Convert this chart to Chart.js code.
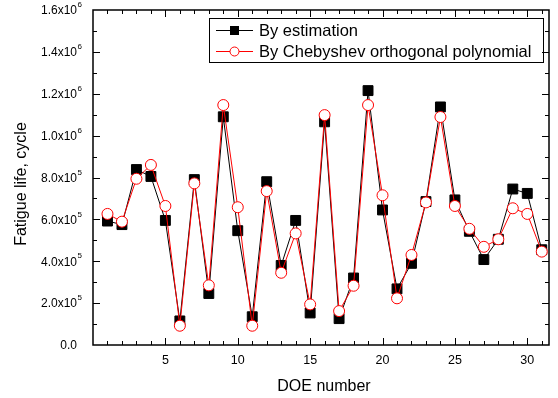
<!DOCTYPE html>
<html>
<head>
<meta charset="utf-8">
<script src="https://cdn.jsdelivr.net/npm/chart.js@4.4.1/dist/chart.umd.min.js"></script>
<style>
  html, body { margin: 0; padding: 0; background: #fff; }
  canvas { display: block; }
</style>
</head>
<body>
<canvas id="chart" width="558" height="398"></canvas>
<script>
const FONT = '"Liberation Sans", Arial, sans-serif';

const doeNumbers = [1, 2, 3, 4, 5, 6, 7, 8, 9, 10, 11, 12, 13, 14, 15, 16,
  17, 18, 19, 20, 21, 22, 23, 24, 25, 26, 27, 28, 29, 30, 31];

const byEstimation = [592000, 575000, 838000, 805000, 595000, 115000, 790000, 246000,
  1090000, 546000, 135000, 780000, 380000, 595000, 153000, 1066000, 126000, 320000,
  1215000, 645000, 268000, 390000, 685000, 1137000, 693000, 543000, 408000, 505000,
  745000, 724000, 455000];

const byChebyshev = [626000, 589000, 794000, 860000, 664000, 92000, 772000, 285000,
  1146000, 658000, 92000, 735000, 345000, 533000, 194000, 1098000, 162000, 283000,
  1146000, 715000, 223000, 430000, 681000, 1089000, 664000, 555000, 469000, 505000,
  653000, 626000, 446000];

const xTickValues = [5, 10, 15, 20, 25, 30];
const yTickValues = [0, 200000, 400000, 600000, 800000, 1000000, 1200000, 1400000, 1600000];
const yTickMantissa = ["0.0", "2.0", "4.0", "6.0", "8.0", "1.0", "1.2", "1.4", "1.6"];
const yTickExponent = ["", "5", "5", "5", "5", "6", "6", "6", "6"];

const toPoints = vals => doeNumbers.map((x, i) => ({ x, y: vals[i] }));

// frame, inward ticks, y labels, titles and the boxed legend
const decor = {
  id: "decor",
  afterDraw(chart) {
    const ctx = chart.ctx;
    const a = chart.chartArea;
    const xs = chart.scales.x;
    const ys = chart.scales.y;
    ctx.save();
    ctx.strokeStyle = "#000";
    ctx.lineWidth = 1.5;
    ctx.strokeRect(a.left, a.top, a.right - a.left, a.bottom - a.top);

    ctx.lineWidth = 1;
    ctx.beginPath();
    for (let v = 1; v <= 31; v++) {
      const px = Math.round(xs.getPixelForValue(v)) + 0.5;
      const len = v % 5 === 0 ? 7 : 4;
      ctx.moveTo(px, a.bottom); ctx.lineTo(px, a.bottom - len);
      ctx.moveTo(px, a.top); ctx.lineTo(px, a.top + len);
    }
    for (let i = 1; i < 16; i++) {
      const py = Math.round(ys.getPixelForValue(i * 100000)) + 0.5;
      const len = i % 2 === 0 ? 7 : 4;
      ctx.moveTo(a.left, py); ctx.lineTo(a.left + len, py);
      ctx.moveTo(a.right, py); ctx.lineTo(a.right - len, py);
    }
    ctx.stroke();

    ctx.fillStyle = "#000";
    ctx.textBaseline = "middle";
    yTickValues.forEach((v, i) => {
      const py = ys.getPixelForValue(v) + 1;
      const base = yTickExponent[i] ? yTickMantissa[i] + "x10" : yTickMantissa[i];
      ctx.font = "12px " + FONT;
      ctx.textAlign = "right";
      ctx.fillText(base, 77, py);
      if (yTickExponent[i]) {
        ctx.font = "8px " + FONT;
        ctx.textAlign = "left";
        ctx.fillText(yTickExponent[i], 77.5, py - 6);
      }
    });

    ctx.font = "16px " + FONT;
    ctx.textAlign = "center";
    ctx.fillText("DOE number", (a.left + a.right) / 2 + 3, 387);
    ctx.save();
    ctx.translate(22, 184);
    ctx.rotate(-Math.PI / 2);
    ctx.fillText("Fatigue life, cycle", 0, 0);
    ctx.restore();

    // legend
    ctx.lineWidth = 1;
    ctx.strokeRect(209.5, 18.5, 334, 44);
    const rows = [
      { ds: chart.data.datasets[1], y: 30 },
      { ds: chart.data.datasets[0], y: 51 }
    ];
    rows.forEach(r => {
      ctx.strokeStyle = r.ds.borderColor;
      ctx.beginPath();
      ctx.moveTo(216, r.y + 0.5); ctx.lineTo(253, r.y + 0.5);
      ctx.stroke();
      if (r.ds.pointStyle === "rect") {
        ctx.fillStyle = "#000";
        ctx.fillRect(230, r.y - 4, 9, 9);
      } else {
        ctx.fillStyle = "#fff";
        ctx.beginPath();
        ctx.arc(234.5, r.y + 0.5, 4.5, 0, Math.PI * 2);
        ctx.fill();
        ctx.stroke();
      }
      ctx.fillStyle = "#000";
      ctx.font = "16.5px " + FONT;
      ctx.textAlign = "left";
      ctx.fillText(r.ds.label, 259, r.y + 1);
    });
    ctx.restore();
  }
};

new Chart(document.getElementById("chart"), {
  type: "line",
  data: {
    datasets: [
      {
        label: "By Chebyshev orthogonal polynomial",
        data: toPoints(byChebyshev),
        borderColor: "#ff0000",
        borderWidth: 1,
        pointStyle: "circle",
        pointRadius: 5.5,
        pointBackgroundColor: "#fff",
        pointBorderColor: "#ff0000",
        pointBorderWidth: 1,
        tension: 0
      },
      {
        label: "By estimation",
        data: toPoints(byEstimation),
        borderColor: "#000",
        borderWidth: 1,
        pointStyle: "rect",
        pointRadius: 7,
        pointBackgroundColor: "#000",
        pointBorderColor: "#000",
        pointBorderWidth: 1,
        tension: 0
      }
    ]
  },
  options: {
    responsive: false,
    animation: false,
    layout: { padding: { top: 10, right: 9, left: 0, bottom: 0 } },
    plugins: { legend: { display: false }, tooltip: { enabled: false } },
    scales: {
      x: {
        type: "linear",
        min: 0,
        max: 31.5,
        grid: { display: false, drawTicks: false },
        border: { display: false },
        afterBuildTicks: s => { s.ticks = xTickValues.map(v => ({ value: v })); },
        afterFit: s => { s.height = 53; },
        ticks: { color: "#000", font: { family: FONT, size: 12.5 }, padding: 8, maxRotation: 0 }
      },
      y: {
        min: 0,
        max: 1600000,
        grid: { display: false, drawTicks: false },
        border: { display: false },
        ticks: { display: false },
        afterFit: s => { s.width = 93; }
      }
    }
  },
  plugins: [decor]
});
</script>
</body>
</html>
